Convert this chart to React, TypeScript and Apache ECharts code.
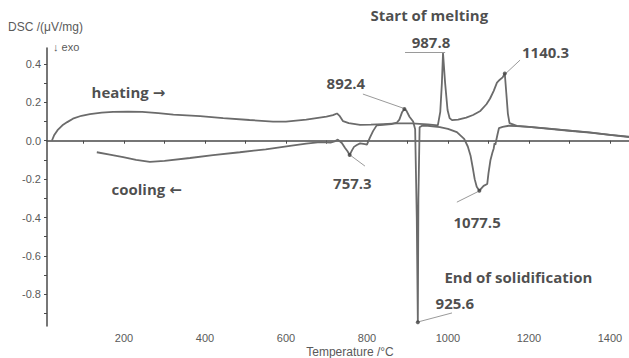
import React, { useEffect, useRef } from "react";
import * as echarts from "echarts";

// Heating curve (temperature °C, DSC µV/mg)
const heatingT = [22, 28, 36, 48, 60, 74, 95, 116, 145, 173, 210, 245, 285, 322, 388, 445, 510, 568, 600, 650, 700, 716, 726, 733, 741, 755, 783, 810, 840, 874, 910, 950, 975, 981, 985, 987.8, 993, 999, 1004, 1010, 1025, 1045, 1062, 1080, 1095, 1104, 1113, 1121, 1128, 1135, 1140.3, 1144, 1148, 1152, 1170, 1200, 1250, 1300, 1350, 1400, 1447];
const heatingDSC = [0.0, 0.03, 0.055, 0.08, 0.097, 0.115, 0.13, 0.139, 0.146, 0.15, 0.151, 0.15, 0.144, 0.136, 0.128, 0.118, 0.108, 0.1, 0.099, 0.11, 0.125, 0.133, 0.142, 0.128, 0.102, 0.092, 0.083, 0.084, 0.087, 0.09, 0.09, 0.085, 0.08, 0.15, 0.3, 0.457, 0.3, 0.16, 0.118, 0.107, 0.11, 0.12, 0.134, 0.155, 0.19, 0.22, 0.26, 0.303, 0.318, 0.33, 0.35, 0.25, 0.14, 0.092, 0.077, 0.072, 0.062, 0.052, 0.042, 0.03, 0.019];

// Cooling curve (recorded from high to low temperature)
const coolingT = [1447, 1400, 1350, 1300, 1250, 1200, 1170, 1150, 1135, 1126, 1122, 1119, 1117, 1115, 1113, 1110, 1105, 1100, 1097, 1088, 1077.5, 1071, 1066, 1062, 1056, 1049, 1040, 1022, 1000, 980, 950, 935, 930, 927, 925.6, 923, 919, 914, 905, 897, 892.4, 887, 880, 874, 860, 840, 824, 815, 807, 800, 795, 783, 775, 768, 763, 757.3, 752, 746, 738, 728, 720, 710, 684, 650, 610, 550, 486, 420, 363, 300, 264, 230, 198, 165, 133];
const coolingDSC = [0.021, 0.031, 0.043, 0.053, 0.063, 0.072, 0.076, 0.078, 0.072, 0.066, 0.03, 0.0, -0.022, -0.012, -0.04, -0.06, -0.1, -0.17, -0.225, -0.235, -0.26, -0.24, -0.2, -0.15, -0.08, -0.03, 0.01, 0.045, 0.062, 0.071, 0.078, 0.077, 0.07, -0.3, -0.945, -0.4, 0.06, 0.1, 0.125, 0.158, 0.165, 0.15, 0.11, 0.095, 0.086, 0.083, 0.08, 0.05, 0.015, -0.02, -0.018, -0.014, -0.022, -0.032, -0.05, -0.074, -0.055, -0.038, -0.012, 0.006, -0.004, -0.01, -0.007, -0.015, -0.027, -0.045, -0.06, -0.075, -0.09, -0.105, -0.11, -0.1, -0.085, -0.072, -0.06];

// Marked characteristic temperatures
const peakTexts = ["987.8", "892.4", "757.3", "1077.5", "1140.3", "925.6"];
const peakT = [987.8, 892.4, 757.3, 1077.5, 1140.3, 925.6];
const peakDSC = [0.457, 0.165, -0.074, -0.26, 0.35, -0.945];

const noteTexts = ["Start of melting", "End of solidification", "heating \u2192", "cooling \u2190"];

const xTickValues = [100, 200, 300, 400, 500, 600, 700, 800, 900, 1000, 1100, 1200, 1300, 1400];
const xLabelValues = [200, 400, 600, 800, 1000, 1200, 1400];
const yTickValues = [-0.9, -0.8, -0.7, -0.6, -0.5, -0.4, -0.3, -0.2, -0.1, 0, 0.1, 0.2, 0.3, 0.4];
const yLabelValues = [-0.8, -0.6, -0.4, -0.2, 0, 0.2, 0.4];

// Layout: where each label text sits (data coords) and its leader end
const peakLabelPos = [
  [958, 0.514],
  [748, 0.3],
  [764, -0.22],
  [1072, -0.423],
  [1241, 0.462],
  [1017, -0.845],
];
const leaderStart = [
  [894, 0.462],
  [790, 0.243],
  [795, -0.132],
  [1022, -0.32],
  [1178, 0.42],
  [1010, -0.897],
];
const leaderEnd = [
  [993, 0.462],
  [889, 0.17],
  [758, -0.074],
  [1077, -0.262],
  [1141, 0.347],
  [926, -0.944],
];
const notePos = [
  [954, 0.655],
  [1174, -0.71],
  [211, 0.254],
  [256, -0.25],
];

export default function App() {
  const ref = useRef<HTMLDivElement>(null);
  useEffect(() => {
    if (!ref.current) return;
    const chart = echarts.init(ref.current, null, { renderer: "svg" });
    const lineColor = "#6b6b6b";
    const axisColor = "#4a4a4a";
    const labelColor = "#5a5a5a";
    const noteFont = "'Open Sans', 'DejaVu Sans', sans-serif";

    const heating = heatingT.map((t, i) => [t, heatingDSC[i]]);
    const cooling = coolingT.map((t, i) => [t, coolingDSC[i]]);

    const labelData = peakTexts.map((s, i) => ({ value: peakLabelPos[i], name: s }));
    const noteData = noteTexts.map((s, i) => ({ value: notePos[i], name: s }));
    const leaders = leaderStart.map((p, i) => ({ coords: [p, leaderEnd[i]] }));
    const dots = peakT.slice(1).map((t, i) => [t, peakDSC[i + 1]]);

    chart.setOption({
      animation: false,
      backgroundColor: "#ffffff",
      grid: { left: 47, right: 0, top: 48, bottom: 32 },
      xAxis: {
        type: "value",
        min: 10,
        max: 1447,
        splitLine: { show: false },
        axisLine: { lineStyle: { color: axisColor, width: 1.5 } },
        axisTick: { show: true, customValues: xTickValues, length: 3, lineStyle: { color: axisColor } },
        axisLabel: {
          customValues: xLabelValues,
          color: labelColor,
          fontSize: 11,
          fontFamily: "'Liberation Sans', Arial, sans-serif",
          margin: 6,
          formatter: (v: number) => String(Math.round(v)),
        },
      },
      yAxis: {
        type: "value",
        min: -0.965,
        max: 0.483,
        splitLine: { show: false },
        axisLine: { show: true, lineStyle: { color: axisColor, width: 1.5 } },
        axisTick: { show: true, customValues: yTickValues, length: 3, lineStyle: { color: axisColor } },
        axisLabel: {
          customValues: yLabelValues,
          color: labelColor,
          fontSize: 11,
          fontFamily: "'Liberation Sans', Arial, sans-serif",
          margin: 6,
          formatter: (v: number) => (Math.abs(v) < 1e-9 ? "0.0" : v.toFixed(1)),
        },
      },
      graphic: [
        {
          type: "text",
          left: 8,
          top: 21,
          style: { text: "DSC /(\u03bcV/mg)", fill: labelColor, font: "12px 'Liberation Sans', Arial, sans-serif" },
        },
        {
          type: "text",
          left: 53,
          top: 41,
          style: { text: "\u2193 exo", fill: labelColor, font: "11px 'Liberation Sans', Arial, sans-serif" },
        },
        {
          type: "text",
          x: 350,
          y: 352,
          style: {
            text: "Temperature /\u00b0C",
            fill: labelColor,
            font: "12px 'Liberation Sans', Arial, sans-serif",
            align: "center",
            verticalAlign: "middle",
          },
        },
      ],
      series: [
        {
          type: "line",
          name: "heating",
          data: heating,
          showSymbol: false,
          lineStyle: { color: lineColor, width: 1.8 },
          z: 3,
        },
        {
          type: "line",
          name: "cooling",
          data: cooling,
          showSymbol: false,
          lineStyle: { color: lineColor, width: 1.8 },
          z: 3,
        },
        {
          type: "lines",
          coordinateSystem: "cartesian2d",
          data: leaders,
          lineStyle: { color: "#9a9a9a", width: 1, opacity: 1 },
          z: 2,
          silent: true,
        },
        {
          type: "scatter",
          data: dots,
          symbolSize: 4,
          itemStyle: { color: "#444" },
          z: 4,
        },
        {
          type: "scatter",
          data: labelData,
          symbolSize: 0,
          clip: false,
          z: 5,
          label: {
            show: true,
            position: "inside",
            formatter: (p: any) => p.name,
            color: "#1e1e1e",
            fontFamily: noteFont,
            fontWeight: "bold",
            fontSize: 15,
          },
        },
        {
          type: "scatter",
          data: noteData,
          symbolSize: 0,
          clip: false,
          z: 5,
          label: {
            show: true,
            position: "inside",
            formatter: (p: any) => p.name,
            color: "#1e1e1e",
            fontFamily: noteFont,
            fontWeight: "bold",
            fontSize: 15,
          },
        },
      ],
    });
    return () => chart.dispose();
  }, []);
  return <div ref={ref} style={{ position: "absolute", left: 0, top: 0, width: 629, height: 358 }} />;
}
